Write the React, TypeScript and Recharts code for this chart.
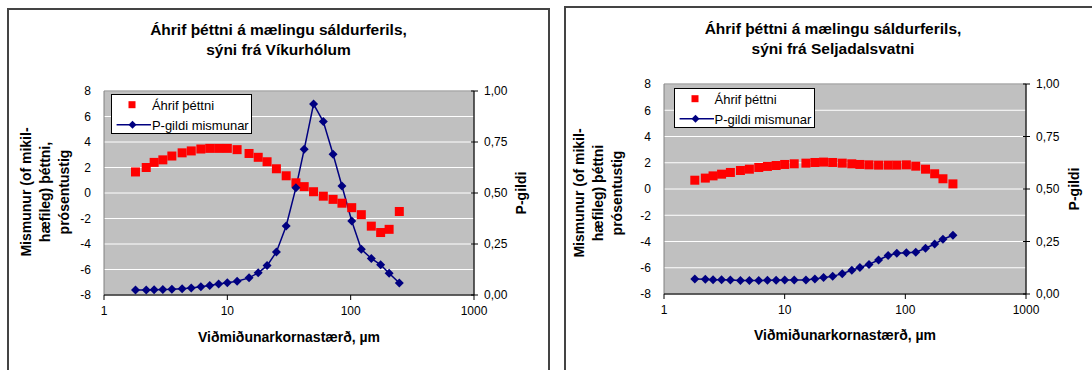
import React from "react";
import { ComposedChart, Line, XAxis, YAxis, CartesianGrid, Legend, ReferenceArea } from "recharts";

// reference grain size, µm (same sizes in both samples)
const sizes = [1.8, 2.2, 2.55, 3.0, 3.55, 4.3, 5.1, 6.1, 7.2, 8.5, 10, 12, 15, 17.8, 21, 25, 30, 36, 42, 50, 60, 72, 85, 102, 122, 147, 175, 205, 248];

// Víkurhólar
const vikurEffect = [1.65, 2.0, 2.4, 2.6, 2.9, 3.15, 3.3, 3.45, 3.5, 3.5, 3.5, 3.4, 3.1, 2.8, 2.45, 1.9, 1.35, 0.8, 0.5, 0.1, -0.25, -0.5, -0.8, -1.15, -1.7, -2.6, -3.1, -2.85, -1.45];
const vikurP = [0.025, 0.025, 0.026, 0.027, 0.028, 0.031, 0.034, 0.04, 0.047, 0.054, 0.06, 0.067, 0.084, 0.109, 0.144, 0.211, 0.338, 0.526, 0.714, 0.936, 0.85, 0.69, 0.534, 0.363, 0.224, 0.179, 0.148, 0.107, 0.059];

// Seljadalsvatn
const seljEffect = [0.67, 0.83, 1.0, 1.13, 1.26, 1.41, 1.51, 1.64, 1.72, 1.79, 1.87, 1.92, 1.97, 2.02, 2.05, 2.02, 1.97, 1.92, 1.87, 1.84, 1.82, 1.82, 1.82, 1.84, 1.74, 1.51, 1.16, 0.78, 0.39];
const seljP = [0.072, 0.07, 0.068, 0.068, 0.067, 0.064, 0.064, 0.064, 0.065, 0.065, 0.067, 0.067, 0.067, 0.072, 0.078, 0.084, 0.097, 0.113, 0.126, 0.141, 0.162, 0.183, 0.194, 0.197, 0.199, 0.218, 0.238, 0.261, 0.28];

const xTicks = [1, 10, 100, 1000];
const leftTicks = [-8, -6, -4, -2, 0, 2, 4, 6, 8];
const rightTicks = [0, 0.25, 0.5, 0.75, 1];

const FONT = '"Liberation Sans", Arial, Helvetica, sans-serif';
const RED = "#FF0000";
const NAVY = "#000080";

const SquareDot = (props: any) => {
  const { cx, cy } = props;
  if (cx == null || cy == null) return null;
  return <rect x={cx - 4.5} y={cy - 4.5} width={9} height={9} fill={RED} />;
};

const DiamondDot = (props: any) => {
  const { cx, cy } = props;
  if (cx == null || cy == null) return null;
  const r = 4.5;
  return <polygon points={`${cx},${cy - r} ${cx + r},${cy} ${cx},${cy + r} ${cx - r},${cy}`} fill={NAVY} />;
};

const fmtP = (v: number) => v.toFixed(2).replace(".", ",");

// right axis tick: small cross tick mark + label (text x sits 10px right of the axis)
const RightTick = (props: any) => {
  const { x, y, payload } = props;
  const ax = x - 10;
  return (
    <g>
      <line x1={ax - 3} x2={ax + 4} y1={y} y2={y} stroke="#000" />
      <text x={x} y={y} dy="0.355em" textAnchor="start" fontSize={12} fontFamily={FONT} fill="#000">
        {fmtP(payload.value)}
      </text>
    </g>
  );
};

const LegendBox = () => (
  <div style={{ position: "relative", width: 141, height: 40, boxSizing: "border-box", border: "1px solid #000", background: "#fff", fontFamily: FONT, fontSize: 13 }}>
    <svg width={42} height={40} style={{ position: "absolute", left: 0, top: -1 }}>
      <rect x={16.5} y={7.2} width={7} height={7} fill={RED} />
      <line x1={4.6} x2={39} y1={30.7} y2={30.7} stroke={NAVY} strokeWidth={1.5} />
      <polygon points="20.5,26.7 24.5,30.7 20.5,34.7 16.5,30.7" fill={NAVY} />
    </svg>
    <div style={{ position: "absolute", left: 39.5, top: 1, lineHeight: "19px" }}>Áhrif þéttni</div>
    <div style={{ position: "absolute", left: 39.5, top: 21, lineHeight: "19px" }}>P-gildi mismunar</div>
  </div>
);

interface PanelProps {
  effect: number[];
  pvals: number[];
  left: number;
  width: number;
  leftW: number;
  rightW: number;
  top: number;
  bottom: number;
  legendX: number;
  legendY: number;
}

const Panel = ({ effect, pvals, left, width, leftW, rightW, top, bottom, legendX, legendY }: PanelProps) => {
  const data = sizes.map((x, i) => ({ x, eff: effect[i], p: pvals[i] }));
  return (
    <div style={{ position: "absolute", left, top: 0 }}>
      <ComposedChart width={width} height={370} data={data} margin={{ top, right: 0, bottom, left: 0 }}>
        <CartesianGrid yAxisId="left" vertical={false} stroke="#fff" fill="#C0C0C0" />
        <ReferenceArea yAxisId="left" x1={1} x2={1000} y1={-8} y2={8} fill="none" stroke="#808080" ifOverflow="visible" />
        <XAxis
          dataKey="x"
          type="number"
          scale="log"
          domain={[1, 1000]}
          ticks={xTicks}
          allowDataOverflow
          height={30}
          tickSize={5}
          tickMargin={6}
          axisLine={{ stroke: "#000" }}
          tickLine={{ stroke: "#000" }}
          tick={{ fill: "#000", fontSize: 12, fontFamily: FONT }}
        />
        <YAxis
          yAxisId="left"
          domain={[-8, 8]}
          ticks={leftTicks}
          width={leftW}
          axisLine={false}
          tickLine={false}
          tickSize={0}
          tickMargin={13}
          tick={{ fill: "#000", fontSize: 12, fontFamily: FONT }}
        />
        <YAxis
          yAxisId="right"
          orientation="right"
          domain={[0, 1]}
          ticks={rightTicks}
          width={rightW}
          tickSize={4}
          tickMargin={6}
          axisLine={{ stroke: "#000" }}
          tickLine={false}
          tick={RightTick}
        />
        <Legend
          layout="vertical"
          align="center"
          verticalAlign="middle"
          content={() => <LegendBox />}
          wrapperStyle={{ left: legendX, top: legendY, width: 141, height: 40 }}
        />
        <Line yAxisId="left" dataKey="eff" stroke="none" dot={SquareDot} activeDot={false} isAnimationActive={false} />
        <Line yAxisId="right" dataKey="p" type="linear" stroke={NAVY} strokeWidth={1.5} dot={DiamondDot} activeDot={false} isAnimationActive={false} />
      </ComposedChart>
    </div>
  );
};

const txt = (s: React.CSSProperties): React.CSSProperties => ({
  position: "absolute",
  whiteSpace: "nowrap",
  fontFamily: FONT,
  fontWeight: "bold",
  color: "#000",
  ...s,
});

export default function App() {
  return (
    <div style={{ position: "fixed", left: 0, top: 0, width: 1092, height: 370, overflow: "hidden", background: "#fff", fontFamily: FONT }}>
      {/* panel frames */}
      <div style={{ position: "absolute", left: 7, top: 8, width: 543, height: 400, boxSizing: "border-box", border: "2px solid #444" }} />
      <div style={{ position: "absolute", left: 564, top: 6, width: 600, height: 400, boxSizing: "border-box", border: "2px solid #444" }} />

      <Panel effect={vikurEffect} pvals={vikurP} left={8} width={541} leftW={96} rightW={75} top={91} bottom={45} legendX={103.4} legendY={94.3} />
      <Panel effect={seljEffect} pvals={seljP} left={565} width={527} leftW={99} rightW={66} top={84} bottom={46} legendX={109} legendY={87.7} />

      {/* left chart texts */}
      <div style={txt({ left: 278.5, top: 20, transform: "translateX(-50%)", fontSize: 15.5, lineHeight: "20px", textAlign: "center" })}>
        Áhrif þéttni á mælingu sáldurferils,<br />sýni frá Víkurhólum
      </div>
      <div style={txt({ left: 45, top: 192, transform: "translate(-50%, -50%) rotate(-90deg)", fontSize: 14, lineHeight: "19px", textAlign: "center" })}>
        Mismunur (of mikil-<br />hæfileg) þéttni,<br />prósentustig
      </div>
      <div style={txt({ left: 521, top: 193, transform: "translate(-50%, -50%) rotate(-90deg)", fontSize: 14, lineHeight: "19px" })}>P-gildi</div>
      <div style={txt({ left: 289, top: 327, transform: "translateX(-50%)", fontSize: 14, lineHeight: "20px" })}>Viðmiðunarkornastærð, µm</div>

      {/* right chart texts */}
      <div style={txt({ left: 833, top: 19, transform: "translateX(-50%)", fontSize: 15.5, lineHeight: "20px", textAlign: "center" })}>
        Áhrif þéttni á mælingu sáldurferils,<br />sýni frá Seljadalsvatni
      </div>
      <div style={txt({ left: 598, top: 193, transform: "translate(-50%, -50%) rotate(-90deg)", fontSize: 14, lineHeight: "19px", textAlign: "center" })}>
        Mismunur (of mikil-<br />hæfileg) þéttni<br />prósentustig
      </div>
      <div style={txt({ left: 1073.5, top: 189, transform: "translate(-50%, -50%) rotate(-90deg)", fontSize: 14, lineHeight: "19px" })}>P-gildi</div>
      <div style={txt({ left: 845, top: 325, transform: "translateX(-50%)", fontSize: 14, lineHeight: "20px" })}>Viðmiðunarkornastærð, µm</div>
    </div>
  );
}
